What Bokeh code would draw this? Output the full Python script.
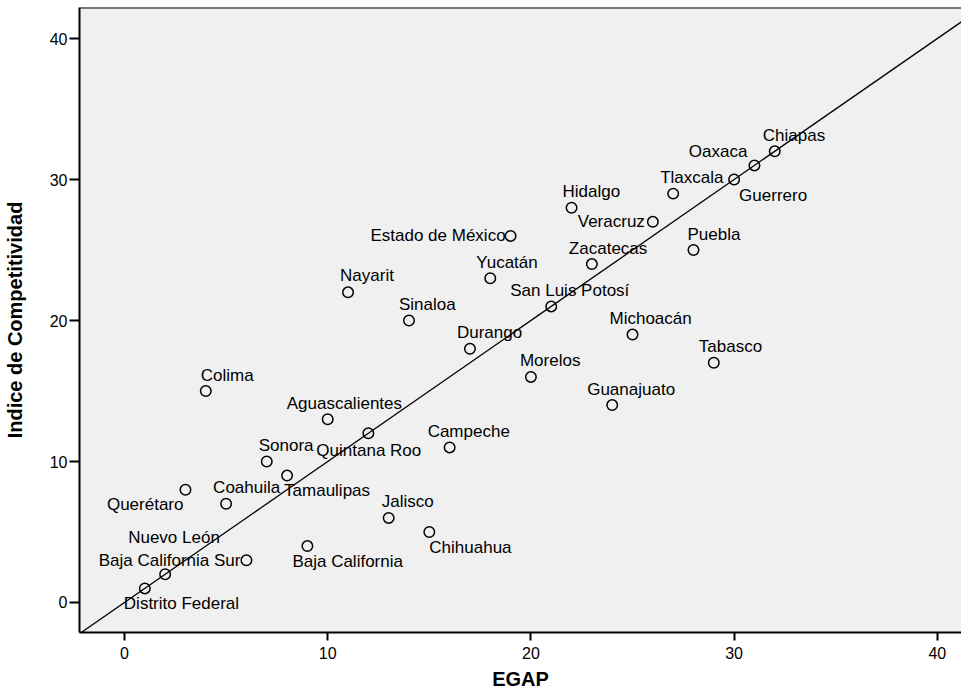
from bokeh.plotting import figure
from bokeh.models import ColumnDataSource, Range1d, FixedTicker, Span
from bokeh.core.properties import value
from bokeh.embed import file_html
from bokeh.resources import INLINE

# ---------------- data ----------------
states = ["Distrito Federal", "Nuevo León", "Querétaro", "Colima", "Coahuila",
          "Baja California Sur", "Sonora", "Tamaulipas", "Baja California",
          "Aguascalientes", "Nayarit", "Quintana Roo", "Jalisco", "Sinaloa",
          "Chihuahua", "Campeche", "Durango", "Yucatán", "Estado de México",
          "Morelos", "San Luis Potosí", "Hidalgo", "Zacatecas", "Guanajuato",
          "Michoacán", "Veracruz", "Tlaxcala", "Puebla", "Tabasco", "Guerrero",
          "Oaxaca", "Chiapas"]
egap = [1, 2, 3, 4, 5, 6, 7, 8, 9, 10, 11, 12, 13, 14, 15, 16,
        17, 18, 19, 20, 21, 22, 23, 24, 25, 26, 27, 28, 29, 30, 31, 32]
indice = [1, 2, 8, 15, 7, 3, 10, 9, 4, 13, 22, 12, 6, 20, 5, 11,
          18, 23, 26, 16, 21, 28, 24, 14, 19, 27, 29, 25, 17, 30, 31, 32]
x_ticks = [0, 10, 20, 30, 40]
y_ticks = [0, 10, 20, 30, 40]
x_title = "EGAP"
y_title = "Indice de Competitividad"

# ---------------- label placement (screen px: dx, dy, align) ----------------
label_pos = {
    "Distrito Federal": (-21, 15, "left"),
    "Nuevo León": (-37, -37, "left"),
    "Querétaro": (-2, 15, "right"),
    "Colima": (-5, -16, "left"),
    "Coahuila": (-13, -16, "left"),
    "Baja California Sur": (-6, 0, "right"),
    "Sonora": (-8, -16, "left"),
    "Tamaulipas": (-3, 15, "left"),
    "Baja California": (-15, 15, "left"),
    "Aguascalientes": (-41, -16, "left"),
    "Nayarit": (-8, -17, "left"),
    "Quintana Roo": (-52, 17, "left"),
    "Jalisco": (-7, -16, "left"),
    "Sinaloa": (-10, -16, "left"),
    "Chihuahua": (0, 16, "left"),
    "Campeche": (-22, -16, "left"),
    "Durango": (-13, -16, "left"),
    "Yucatán": (-14, -16, "left"),
    "Estado de México": (-5, 0, "right"),
    "Morelos": (-11, -16, "left"),
    "San Luis Potosí": (-41, -16, "left"),
    "Hidalgo": (-9, -16, "left"),
    "Zacatecas": (-23, -16, "left"),
    "Guanajuato": (-25, -16, "left"),
    "Michoacán": (-23, -16, "left"),
    "Veracruz": (-8, 0, "right"),
    "Tlaxcala": (-13, -16, "left"),
    "Puebla": (-6, -16, "left"),
    "Tabasco": (-15, -16, "left"),
    "Guerrero": (5, 16, "left"),
    "Oaxaca": (-7, -14, "right"),
    "Chiapas": (-12, -16, "left"),
}

FONT = "Liberation Sans"
X0, X1 = -2.215, 41.19
Y0, Y1 = -2.128, 42.2

p = figure(width=961, height=692, output_backend="svg", toolbar_location=None,
           x_range=Range1d(X0, X1), y_range=Range1d(Y0, Y1),
           min_border_left=79, min_border_right=0, min_border_top=7,
           min_border_bottom=60)
p.background_fill_color = "#f0f0f0"
p.border_fill_color = "white"
p.outline_line_color = None
p.xgrid.visible = False
p.ygrid.visible = False

for ax, ticks, tout in ((p.xaxis[0], x_ticks, 8), (p.yaxis[0], y_ticks, 10)):
    ax.ticker = FixedTicker(ticks=ticks)
    ax.minor_tick_line_color = None
    ax.axis_line_color = "black"
    ax.axis_line_width = 2
    ax.major_tick_line_color = "black"
    ax.major_tick_line_width = 2
    ax.major_tick_in = 0
    ax.major_tick_out = tout
    ax.major_label_text_font = FONT
    ax.major_label_text_font_size = "16px"
    ax.major_label_text_color = "black"
    ax.axis_label_text_font = FONT
    ax.axis_label_text_font_style = "bold"
    ax.axis_label_text_font_size = "20px"
    ax.axis_label_text_color = "black"

p.xaxis.major_label_standoff = 6
p.yaxis.major_label_standoff = 2
p.xaxis.axis_label = x_title
p.xaxis.axis_label_standoff = 6
p.yaxis.axis_label = y_title
p.yaxis.axis_label_standoff = 21

# top border
p.add_layout(Span(location=Y1, dimension="width", line_color="black", line_width=2))

# identity reference line
p.line([X0, X1], [X0, X1], line_color="black", line_width=1.3)

# points
p.scatter(egap, indice, marker="circle", size=10.5, fill_color=None,
          line_color="black", line_width=1.5)

# labels
for align in ("left", "right"):
    rows = [i for i, s in enumerate(states) if label_pos[s][2] == align]
    src = ColumnDataSource(dict(
        x=[egap[i] for i in rows], y=[indice[i] for i in rows],
        t=[states[i] for i in rows],
        dx=[label_pos[states[i]][0] for i in rows],
        dy=[label_pos[states[i]][1] for i in rows]))
    p.text(x="x", y="y", text="t", x_offset="dx", y_offset="dy", source=src,
           text_align=align, text_baseline="middle",
           text_font=value(FONT), text_font_size="17px", text_color="black")

open("out.html", "w").write(file_html(p, INLINE))
